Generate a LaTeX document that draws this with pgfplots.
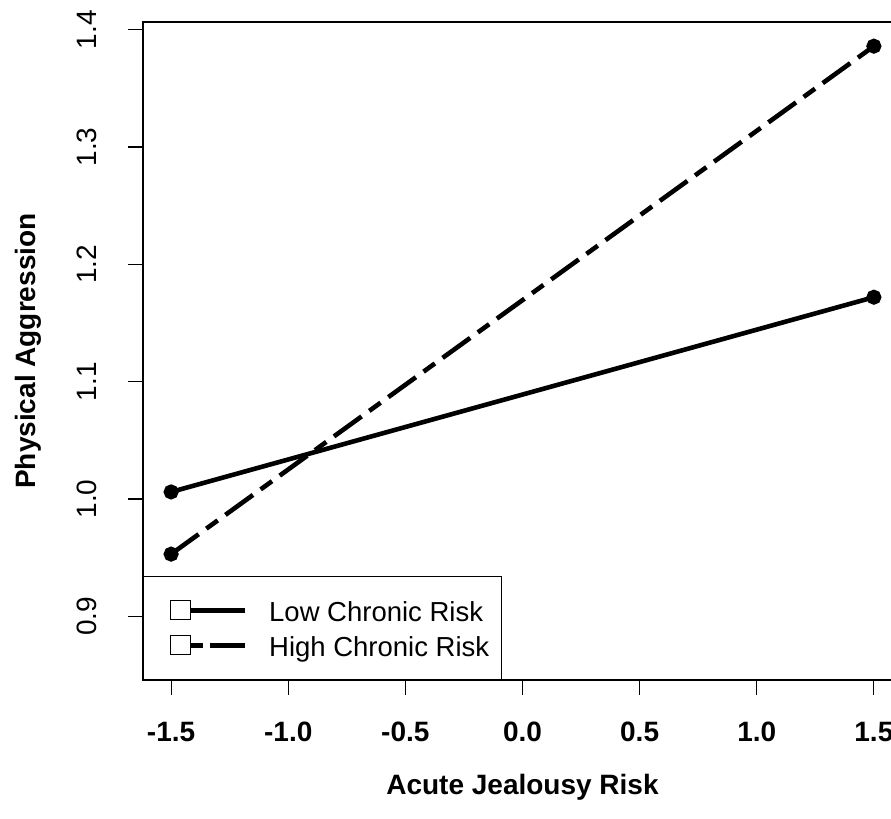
\documentclass[border=0pt]{standalone}
\usepackage{fontspec}
\setmainfont{Liberation Sans}
\usepackage{pgfplots}
\pgfplotsset{compat=1.18}

% 1 px of the reference = 0.5pt
\begin{document}
\begin{tikzpicture}
\begin{axis}[
  scale only axis,
  width=379.5pt, height=329pt,
  xmin=-1.62, xmax=1.62,
  ymin=0.8457, ymax=1.4066,
  axis line style={line width=0.6pt},
  xtick={-1.5,-1,-0.5,0,0.5,1,1.5},
  ytick={0.9,1.0,1.1,1.2,1.3,1.4},
  xtick pos=bottom, ytick pos=left,
  tick align=outside,
  major tick length=7.5pt,
  tick style={line width=0.6pt, black},
  /pgf/number format/fixed,
  /pgf/number format/fixed zerofill,
  /pgf/number format/precision=1,
  /pgf/number format/assume math mode=true,
  xticklabel style={font=\fontsize{14}{16}\selectfont\bfseries, yshift=-10pt},
  yticklabel style={font=\fontsize{14}{16}\selectfont, rotate=90, anchor=south, yshift=12pt},
  xlabel={Acute Jealousy Risk},
  ylabel={Physical Aggression},
  label style={font=\fontsize{14}{16}\selectfont\bfseries},
  xlabel style={at={(axis description cs:0.5,-0.1626)}, anchor=center},
  ylabel style={at={(axis description cs:-0.1515,0.5)}, anchor=center},
  legend style={at={(0,0)}, anchor=south west, draw=black, line width=0.6pt,
    fill=white, inner xsep=6pt, inner ysep=8.25pt, row sep=0pt, column sep=11pt,
    font=\fontsize{13.75}{16}\selectfont,
    nodes={inner sep=0pt, text height=14.45pt, text depth=3.05pt}},
  legend cell align=left,
]
\addplot[black, line width=2.3pt, mark=*, mark size=2.6pt,
  legend image code/.code={
    \path (-6.5pt,0pt);
    \draw[black, solid, line width=2.3pt] (10pt,0pt) -- (37pt,0pt);
    \draw[black, solid, line width=0.6pt, fill=white] (0pt,-4.75pt) rectangle (10pt,4.75pt);
  }] coordinates {
  (-1.5, 1.006) (1.5, 1.172)
};
\addlegendentry{Low Chronic Risk}
\addplot[black, line width=2.3pt, mark=*, mark size=2.6pt, mark options={solid},
  dash pattern=on 17pt off 4.75pt on 7pt off 4.75pt,
  legend image code/.code={
    \path (-6.5pt,0pt);
    \draw[black, solid, line width=2.3pt] (10pt,0pt) -- (16pt,0pt);
    \draw[black, solid, line width=2.3pt] (19.5pt,0pt) -- (37pt,0pt);
    \draw[black, solid, line width=0.6pt, fill=white] (0pt,-4.75pt) rectangle (10pt,4.75pt);
  }] coordinates {
  (-1.5, 0.953) (1.5, 1.386)
};
\addlegendentry{High Chronic Risk}
\end{axis}
\pgfresetboundingbox
\path[use as bounding box] (current axis.south west) ++(-71.5pt,-69.5pt) rectangle ++(445.5pt,409.5pt);
\end{tikzpicture}
\end{document}
